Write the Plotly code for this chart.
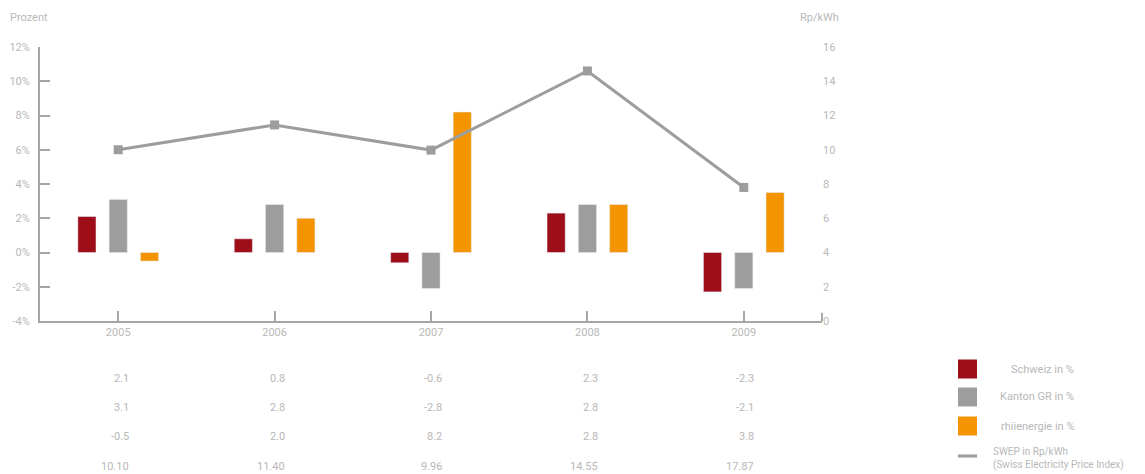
import plotly.graph_objects as go

years = ["2005", "2006", "2007", "2008", "2009"]
schweiz = [2.1, 0.8, -0.6, 2.3, -2.3]
kanton = [3.1, 2.8, -2.1, 2.8, -2.1]
rhiienergie = [-0.5, 2.0, 8.2, 2.8, 3.5]
swep = [10.0, 11.45, 9.98, 14.6, 7.8]

# table labels as printed under the chart
tbl_schweiz = ["2.1", "0.8", "-0.6", "2.3", "-2.3"]
tbl_kanton = ["3.1", "2.8", "-2.8", "2.8", "-2.1"]
tbl_rhii = ["-0.5", "2.0", "8.2", "2.8", "3.8"]
tbl_swep = ["10.10", "11.40", "9.96", "14.55", "17.87"]

left_ticks = list(range(-4, 13, 2))
left_labels = [f"{v}%" for v in left_ticks]
right_ticks = list(range(0, 17, 2))
right_labels = [str(v) for v in right_ticks]

RED = "#9d0e19"
GRAY = "#9d9d9d"
ORANGE = "#f39400"
TXT = "#b8b8b8"
AX = "#a6a6a6"
FONT = "Roboto"

fig = go.Figure()
fig.add_trace(go.Bar(x=years, y=schweiz, name="Schweiz in %", marker_color=RED))
fig.add_trace(go.Bar(x=years, y=kanton, name="Kanton GR in %", marker_color=GRAY))
fig.add_trace(go.Bar(x=years, y=rhiienergie, name="rhiienergie in %", marker_color=ORANGE))
fig.add_trace(go.Scatter(x=years, y=swep, yaxis="y2", mode="lines+markers",
                         name="SWEP", line=dict(color=GRAY, width=3),
                         marker=dict(symbol="square", size=9, color=GRAY)))

fig.update_layout(
    width=1145, height=474,
    margin=dict(l=40, r=323, t=47, b=153, autoexpand=False),
    plot_bgcolor="white", paper_bgcolor="white",
    barmode="group", bargap=0.4, bargroupgap=0.42,
    showlegend=False,
    font=dict(family=FONT, size=11, color=TXT),
    xaxis=dict(type="category", range=[-0.5, 4.5], showline=True, linecolor=AX, linewidth=2,
               ticks="inside", ticklen=10, tickwidth=2, tickcolor=AX, showgrid=False,
               zeroline=False, automargin=False, tickfont=dict(color=TXT, size=11)),
    yaxis=dict(range=[-4, 12], tickmode="array", tickvals=left_ticks, ticktext=left_labels,
               showline=True, linecolor=AX, linewidth=2, ticks="inside", ticklen=10,
               tickwidth=2, tickcolor=AX, showgrid=False, zeroline=False, automargin=False,
               ticklabelstandoff=6, tickfont=dict(color=TXT, size=11)),
    yaxis2=dict(range=[0, 16], tickmode="array", tickvals=right_ticks, ticktext=right_labels,
                overlaying="y", side="right", automargin=False,
                showline=False, ticks="", showgrid=False, zeroline=False,
                tickfont=dict(color=TXT, size=11)),
)

# right end tick of x-axis
fig.add_shape(type="line", xref="paper", yref="paper", x0=1, x1=1, y0=0, y1=0.03,
              line=dict(color=AX, width=2))

# axis titles
fig.add_annotation(text="Prozent", xref="paper", yref="paper", x=-0.041, y=(321 - 17) / 274.0,
                   xanchor="left", yanchor="middle", showarrow=False, font=dict(size=11, color=TXT))
fig.add_annotation(text="Rp/kWh", xref="paper", yref="paper", x=(841 - 40) / 782.0, y=(321 - 17) / 274.0,
                   xanchor="right", yanchor="middle", showarrow=False, font=dict(size=11, color=TXT))

# table rows
rows = [tbl_schweiz, tbl_kanton, tbl_rhii, tbl_swep]
row_y = [378, 407, 436, 466]
for r, yy in zip(rows, row_y):
    for i, t in enumerate(r):
        fig.add_annotation(text=t, xref="x", yref="paper", x=i + 0.08,
                           y=(321 - yy) / 274.0, xanchor="right", yanchor="middle",
                           showarrow=False, font=dict(size=11, color=TXT))

# legend
def px(x): return (x - 40) / 782.0
def py(y): return (321 - y) / 274.0
legend_items = [("Schweiz in %", RED, 369), ("Kanton GR in %", GRAY, 397), ("rhiienergie in %", ORANGE, 426)]
for name, col, yc in legend_items:
    fig.add_shape(type="rect", xref="paper", yref="paper", x0=px(958), x1=px(977),
                  y0=py(yc + 9.5), y1=py(yc - 9.5), fillcolor=col, line=dict(width=0))
    fig.add_annotation(text=name, xref="paper", yref="paper", x=px(1076), y=py(yc),
                       xanchor="right", yanchor="middle", showarrow=False,
                       font=dict(size=11, color=TXT))
fig.add_shape(type="line", xref="paper", yref="paper", x0=px(958), x1=px(977),
              y0=py(456), y1=py(456), line=dict(color=GRAY, width=3))
fig.add_annotation(text="SWEP in Rp/kWh<br>(Swiss Electricity Price Index)", xref="paper", yref="paper",
                   x=px(991), y=py(444), xanchor="left", yanchor="top", align="left",
                   showarrow=False, font=dict(size=10, color=TXT))

fig.write_html("out.html")
